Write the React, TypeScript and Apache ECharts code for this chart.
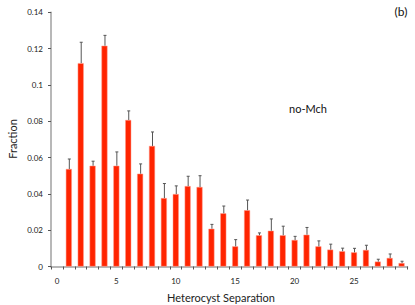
import React, { useEffect, useRef } from "react";
import * as echarts from "echarts";

const categories: string[] = Array.from({ length: 30 }, (_, i) => String(i));
const fractions: (number | null)[] = [
  null, 0.0537, 0.112, 0.0555, 0.1216, 0.0555, 0.0807, 0.0511, 0.0664, 0.0377,
  0.0399, 0.0443, 0.0438, 0.0208, 0.0293, 0.0111, 0.031, 0.0172, 0.0197, 0.0172,
  0.0146, 0.0175, 0.0111, 0.0093, 0.0084, 0.0078, 0.0091, 0.0027, 0.0047, 0.0019,
];
const errors: (number | null)[] = [
  null, 0.0055, 0.0115, 0.0025, 0.0057, 0.0076, 0.005, 0.0054, 0.0077, 0.008,
  0.0045, 0.0054, 0.0062, 0.0024, 0.004, 0.0037, 0.0056, 0.0013, 0.0065, 0.005,
  0.002, 0.004, 0.003, 0.003, 0.0017, 0.0022, 0.0026, 0.0013, 0.0022, 0.001,
];
const yTicks = { min: 0, max: 0.14, interval: 0.02 };

const FONT = "Lato, 'Open Sans', sans-serif";

export default function App() {
  const ref = useRef<HTMLDivElement>(null);
  useEffect(() => {
    if (!ref.current) return;
    const chart = echarts.init(ref.current, undefined, { renderer: "svg" });
    const errData = fractions
      .map((v, i) => (v == null || errors[i] == null ? null : [i, v, errors[i]]))
      .filter((d) => d !== null) as number[][];
    chart.setOption({
      animation: false,
      grid: { left: 51, top: 12.3, right: 7.5, bottom: 38.5, containLabel: false },
      xAxis: {
        type: "category",
        data: categories,
        boundaryGap: true,
        axisLine: { lineStyle: { color: "#a0a0a0", width: 1.5 } },
        axisTick: { show: true, interval: 0, length: 3, lineStyle: { color: "#555" } },
        axisLabel: {
          interval: 4,
          margin: 10,
          color: "#222",
          fontSize: 8,
          fontFamily: FONT,
        },
      },
      yAxis: {
        type: "value",
        min: yTicks.min,
        max: yTicks.max,
        interval: yTicks.interval,
        splitLine: { show: false },
        axisLine: { show: true, lineStyle: { color: "#a0a0a0", width: 1.5 } },
        axisTick: { show: true, length: 3, lineStyle: { color: "#555" } },
        axisLabel: { color: "#222", fontSize: 8, fontFamily: FONT, margin: 8 },
      },
      series: [
        {
          type: "bar",
          data: fractions,
          barWidth: 6,
          itemStyle: { color: "#ff2400", borderColor: "#ff9a8a", borderWidth: 0.5 },
        },
        {
          type: "custom",
          data: errData,
          z: 10,
          renderItem: (params: any, api: any) => {
            const x = api.value(0);
            const v = api.value(1);
            const e = api.value(2);
            const p0 = api.coord([x, v]);
            const p1 = api.coord([x, v + e]);
            return {
              type: "group",
              children: [
                {
                  type: "line",
                  shape: { x1: p0[0] + 0.5, y1: p0[1], x2: p1[0] + 0.5, y2: p1[1] },
                  style: { stroke: "#555", lineWidth: 1 },
                },
                {
                  type: "line",
                  shape: { x1: p1[0] - 1, y1: p1[1], x2: p1[0] + 2, y2: p1[1] },
                  style: { stroke: "#555", lineWidth: 1 },
                },
              ],
            };
          },
        },
      ],
      graphic: [
        {
          type: "text",
          x: 12,
          y: 139,
          rotation: Math.PI / 2,
          style: {
            text: "Fraction",
            fill: "#222",
            font: `11px ${FONT}`,
            align: "center",
            verticalAlign: "middle",
          },
        },
        {
          type: "text",
          x: 221,
          y: 297,
          style: {
            text: "Heterocyst Separation",
            fill: "#222",
            font: `11px ${FONT}`,
            align: "center",
            verticalAlign: "middle",
          },
        },
        {
          type: "text",
          x: 308,
          y: 108,
          style: {
            text: "no-Mch",
            fill: "#111",
            font: `11px ${FONT}`,
            align: "center",
            verticalAlign: "middle",
          },
        },
        {
          type: "text",
          x: 401,
          y: 11,
          style: {
            text: "(b)",
            fill: "#111",
            font: `12px ${FONT}`,
            align: "center",
            verticalAlign: "middle",
          },
        },
      ],
    });
    return () => chart.dispose();
  }, []);
  return (
    <div
      ref={ref}
      style={{ position: "fixed", left: 0, top: 0, width: 415, height: 305, background: "#fff" }}
    />
  );
}
